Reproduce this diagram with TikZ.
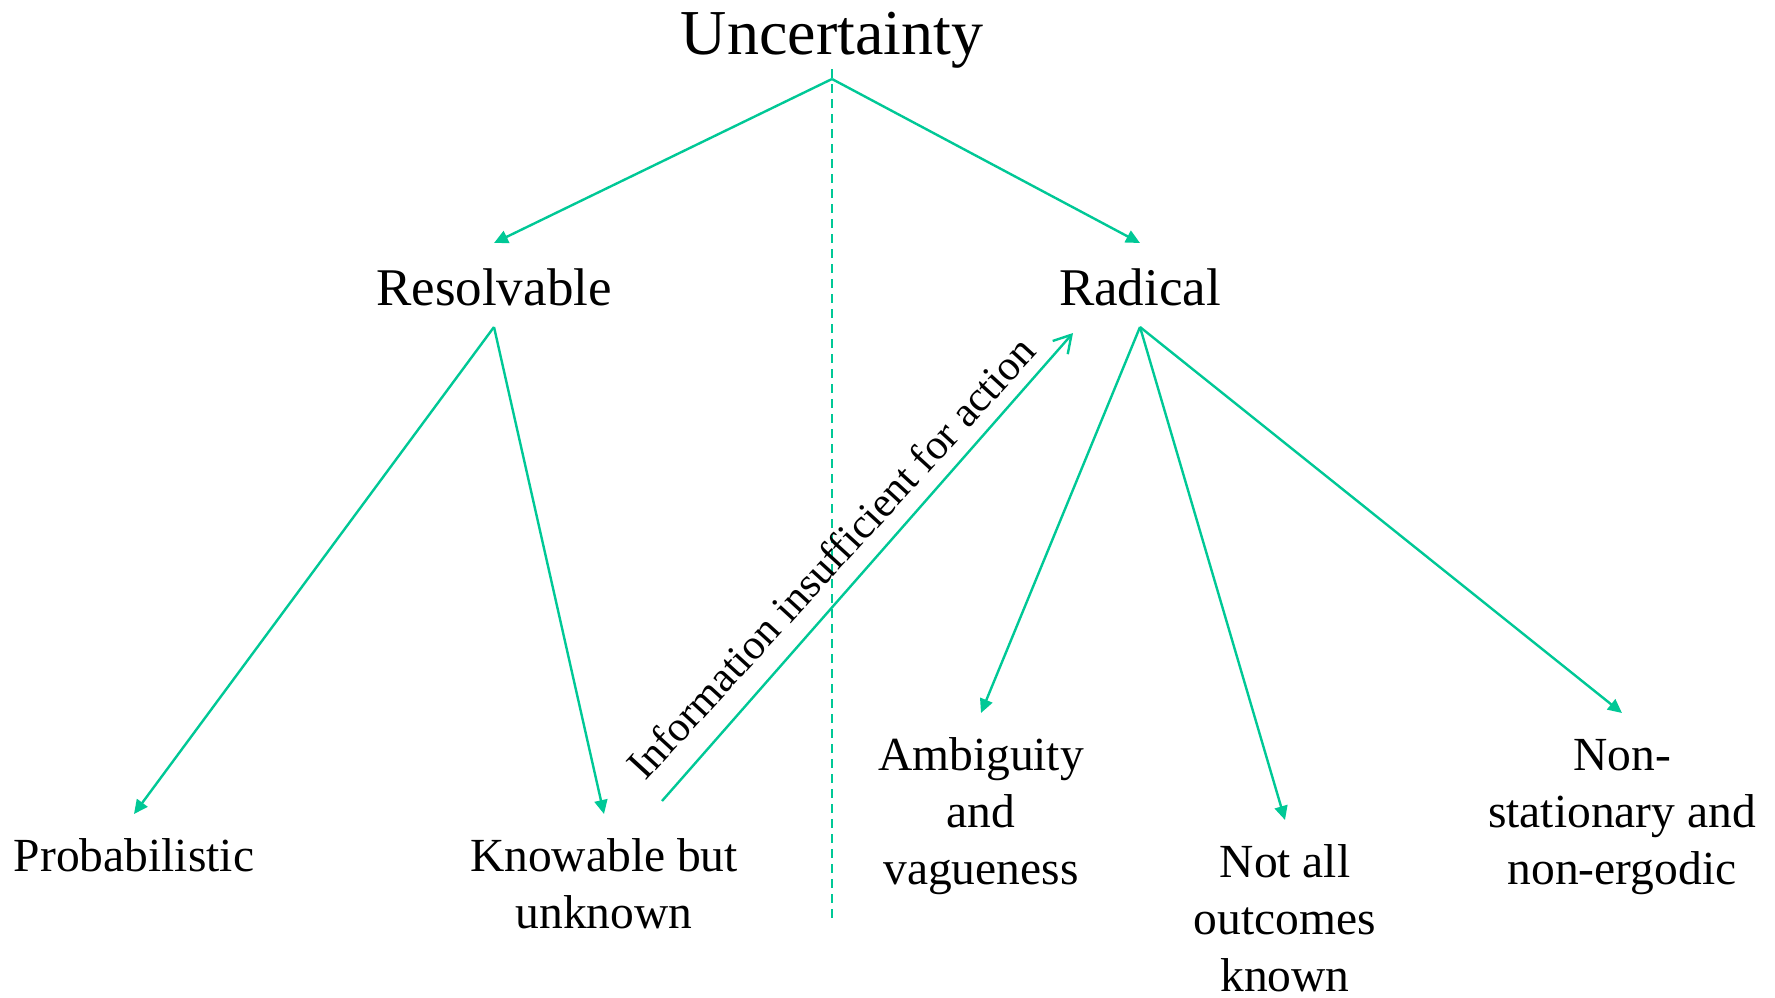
\documentclass[tikz,border=0pt]{standalone}
\usepackage{fontspec}
\setmainfont{Liberation Serif}
\usetikzlibrary{arrows.meta}
\definecolor{lc}{RGB}{0,200,150}
\begin{document}
\begin{tikzpicture}[x=1pt,y=-1pt,
  conn/.style={draw=lc, line width=2.4pt, -{Triangle[length=14pt,width=13pt]}},
  infoarr/.style={draw=lc, line width=2.4pt, -{Straight Barb[length=17pt,width=20pt,line width=2.4pt]}},
  divider/.style={draw=lc, line width=2pt, dash pattern=on 9pt off 6pt},
  toptext/.style={font=\fontsize{64}{77}\selectfont, inner sep=0pt, anchor=base},
  midtext/.style={font=\fontsize{53}{64}\selectfont, inner sep=0pt, anchor=base},
  lowtext/.style={font=\fontsize{47.5}{57}\selectfont, inner sep=0pt, anchor=north, align=center},
  labeltext/.style={font=\fontsize{42.5}{51}\selectfont, inner sep=0pt, anchor=base}]
\useasboundingbox (0,0) rectangle (1775,997);

\node[toptext] (unc) at (832,54) {Uncertainty};
\node[midtext] (res) at (494,305) {Resolvable};
\node[midtext] (rad) at (1140,305) {Radical};

\node[lowtext] (prob) at (134,831) {\strut Probabilistic};
\node[lowtext] (know) at (604,831) {\strut Knowable but\\unknown};
\node[lowtext] (amb) at (981,730) {\strut Ambiguity\\and\\vagueness};
\node[lowtext] (nota) at (1285,837) {\strut Not all\\outcomes\\known};
\node[lowtext] (nons) at (1622,730) {\strut Non-\\stationary and\\non-ergodic};

\coordinate (dashend) at (832,923);
\draw[divider] ([yshift=-15pt]unc.base) -- (dashend);

\draw[conn] ([yshift=-25pt]unc.base) -- ([yshift=62pt]res.base);
\draw[conn] ([yshift=-25pt]unc.base) -- ([yshift=62pt]rad.base);

\draw[conn] ([yshift=-22pt]res.base) -- ([yshift=17pt]prob.north);
\draw[conn] ([yshift=-22pt]res.base) -- ([yshift=17pt]know.north);

\draw[conn] ([yshift=-22pt]rad.base) -- ([yshift=17pt]amb.north);
\draw[conn] ([yshift=-22pt]rad.base) -- ([yshift=17pt]nota.north);
\draw[conn] ([yshift=-22pt]rad.base) -- ([yshift=17pt]nons.north);

\draw[infoarr] ([xshift=58pt,yshift=30pt]know.north) -- ([xshift=-67pt,yshift=-28pt]rad.base);
\node[labeltext, rotate=47.5] (lab) at (842,567.5) {Information insufficient for action};
\end{tikzpicture}
\end{document}
